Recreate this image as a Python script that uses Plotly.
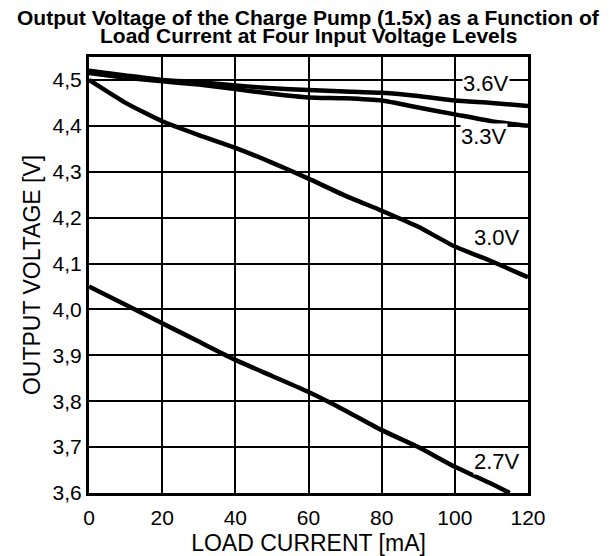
import plotly.graph_objects as go

load_ma = [0, 10, 20, 30, 40, 50, 60, 70, 80, 90, 100, 110, 120]
v36 = [4.52, 4.51, 4.50, 4.495, 4.488, 4.482, 4.478, 4.475, 4.472, 4.465, 4.455, 4.45, 4.443]
v33 = [4.515, 4.505, 4.497, 4.49, 4.48, 4.47, 4.462, 4.46, 4.455, 4.44, 4.425, 4.41, 4.40]
v30 = [4.50, 4.45, 4.41, 4.38, 4.352, 4.32, 4.285, 4.248, 4.215, 4.18, 4.137, 4.105, 4.07]
load_27 = [0, 10, 20, 30, 40, 50, 60, 70, 80, 90, 100, 110, 115]
v27 = [4.05, 4.01, 3.97, 3.93, 3.89, 3.855, 3.82, 3.78, 3.737, 3.70, 3.657, 3.62, 3.60]

ytick_vals = [3.6, 3.7, 3.8, 3.9, 4.0, 4.1, 4.2, 4.3, 4.4, 4.5]
ytick_text = ["3,6", "3,7", "3,8", "3,9", "4,0", "4,1", "4,2", "4,3", "4,4", "4,5"]
xtick_vals = [0, 20, 40, 60, 80, 100, 120]

labels = ["3.6V", "3.3V", "3.0V", "2.7V"]
label_x = [108.5, 108, 111.5, 111.5]
label_y = [4.493, 4.376, 4.156, 3.668]

fig = go.Figure()
for xs, ys in [(load_ma, v36), (load_ma, v33), (load_ma, v30), (load_27, v27)]:
    fig.add_trace(go.Scatter(x=xs, y=ys, mode="lines", line=dict(color="black", width=4.5, shape="spline", smoothing=0.5),
                             showlegend=False, hoverinfo="skip"))

for t, lx, ly in zip(labels, label_x, label_y):
    fig.add_annotation(x=lx, y=ly, text=t, showarrow=False, bgcolor="white",
                       font=dict(family="Liberation Sans, Arial", size=22, color="black"), borderpad=0)

title_font = dict(family="Liberation Sans Narrow, Arial Narrow, Liberation Sans", size=21, color="black")
fig.add_annotation(x=0.5, y=1, xref="paper", yref="paper", xanchor="center", yanchor="bottom", yshift=26,
                   text="<b>Output Voltage of the Charge Pump (1.5x) as a Function of</b>", showarrow=False,
                   font=title_font)
fig.add_annotation(x=0.5, y=1, xref="paper", yref="paper", xanchor="center", yanchor="bottom", yshift=8,
                   text="<b>Load Current at Four Input Voltage Levels</b>", showarrow=False,
                   font=title_font)

fig.update_xaxes(range=[0, 120], tickvals=xtick_vals, showgrid=True, gridcolor="black", gridwidth=2,
                 showline=True, linecolor="black", linewidth=3, mirror=True, zeroline=False, ticks="",
                 automargin=False, ticklabelstandoff=4, title=dict(text="LOAD CURRENT [mA]", standoff=8),
                 tickfont=dict(family="Liberation Sans, Arial", size=21, color="black"))
fig.update_yaxes(range=[3.6, 4.55], tickvals=ytick_vals, ticktext=ytick_text, showgrid=True, gridcolor="black",
                 gridwidth=2, showline=True, linecolor="black", linewidth=3, mirror=True, zeroline=False, ticks="",
                 automargin=False, title=dict(text="OUTPUT VOLTAGE [V]", standoff=6),
                 tickfont=dict(family="Liberation Sans, Arial", size=21, color="black"))

fig.update_layout(width=611, height=556, margin=dict(l=89, r=83, t=57, b=63),
                  plot_bgcolor="white", paper_bgcolor="white",
                  font=dict(family="Liberation Sans, Arial", size=19, color="black"))

fig.write_html("out.html", config={"displayModeBar": False},
               post_script="document.body.style.margin='0';")
